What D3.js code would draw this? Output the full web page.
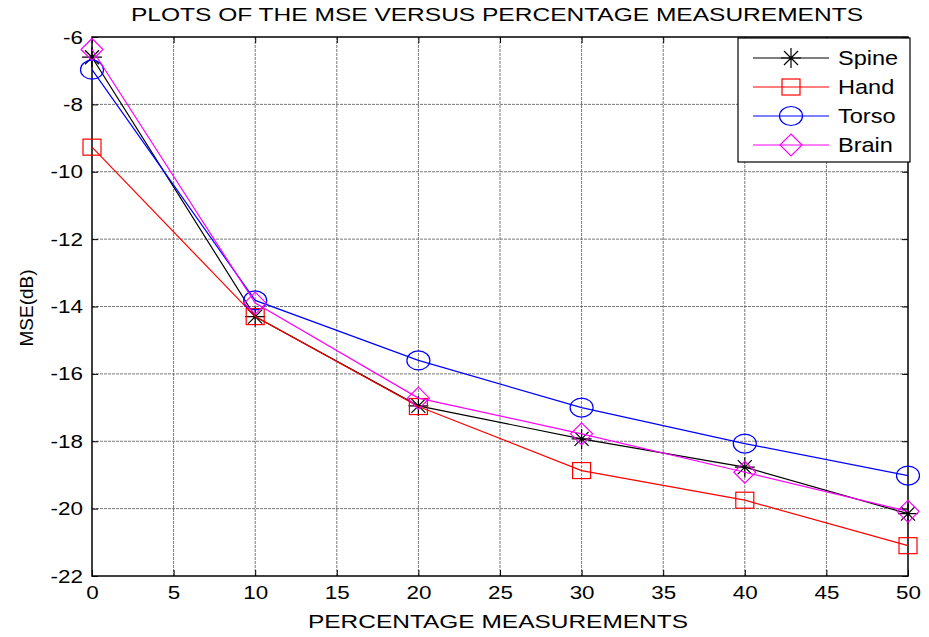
<!DOCTYPE html>
<html>
<head>
<meta charset="utf-8">
<script src="https://cdn.jsdelivr.net/npm/d3@7"></script>
<style>
body { margin: 0; background: #fff; }
text { font-family: "Liberation Sans", Arial, sans-serif; }
</style>
</head>
<body>
<div id="chart"></div>
<script>
const percent = [0, 10, 20, 30, 40, 50];
const spine = [-6.6, -14.3, -16.95, -17.93, -18.77, -20.15];
const hand = [-9.27, -14.3, -16.97, -18.87, -19.75, -21.1];
const torso = [-6.97, -13.82, -15.6, -17.0, -18.07, -19.02];
const brain = [-6.37, -13.9, -16.72, -17.78, -18.92, -20.08];
const xTicks = [0, 5, 10, 15, 20, 25, 30, 35, 40, 45, 50];
const yTicks = [-6, -8, -10, -12, -14, -16, -18, -20, -22];

const series = [
    {name: "Spine", values: spine, color: "#000000", marker: "star"},
    {name: "Hand", values: hand, color: "#ff0000", marker: "square"},
    {name: "Torso", values: torso, color: "#0000ff", marker: "circle"},
    {name: "Brain", values: brain, color: "#ff00ff", marker: "diamond"}
];

let width = 929, height = 637;
let plotL = 92, plotR = 908, plotT = 37, plotB = 576;

let svg = d3.select("#chart").append("svg")
    .attr("width", width)
    .attr("height", height);

let scaleX = d3.scaleLinear().domain([0, 50]).range([plotL, plotR]);
let scaleY = d3.scaleLinear().domain([-22, -6]).range([plotB, plotT]);

// растянуть текст по горизонтали, как на картинке
function stretch(sel, k) {
    sel.each(function() {
        let w = this.getComputedTextLength();
        d3.select(this).attr("textLength", w * k).attr("lengthAdjust", "spacingAndGlyphs");
    });
}

// сетка
svg.append("g").selectAll("line")
    .data(xTicks.slice(1, -1))
    .enter().append("line")
    .attr("x1", d => scaleX(d)).attr("x2", d => scaleX(d))
    .attr("y1", plotT).attr("y2", plotB)
    .attr("stroke", "#777").attr("stroke-width", 1).attr("stroke-dasharray", "3,1");
svg.append("g").selectAll("line")
    .data(yTicks.slice(1, -1))
    .enter().append("line")
    .attr("x1", plotL).attr("x2", plotR)
    .attr("y1", d => scaleY(d)).attr("y2", d => scaleY(d))
    .attr("stroke", "#777").attr("stroke-width", 1).attr("stroke-dasharray", "3,1");

// оси
let fmt = d => String(d);
let axisX = d3.axisBottom(scaleX).tickValues(xTicks).tickFormat(fmt).tickSize(-6).tickPadding(10);
let axisY = d3.axisLeft(scaleY).tickValues(yTicks).tickFormat(fmt).tickSize(-6).tickPadding(9);

let gx = svg.append("g").attr("transform", `translate(0, ${plotB})`).call(axisX);
let gy = svg.append("g").attr("transform", `translate(${plotL}, 0)`).call(axisY);
[gx, gy].forEach(g => {
    g.select(".domain").remove();
    g.selectAll("text").style("font-size", "19px").attr("fill", "#000");
    g.selectAll("line").attr("stroke", "#000");
    stretch(g.selectAll("text"), 1.18);
});
// верхние и правые метки
svg.append("g").attr("transform", `translate(0, ${plotT})`)
    .call(d3.axisTop(scaleX).tickValues(xTicks).tickSize(-6).tickFormat(""))
    .call(g => g.select(".domain").remove());
svg.append("g").attr("transform", `translate(${plotR}, 0)`)
    .call(d3.axisRight(scaleY).tickValues(yTicks).tickSize(-6).tickFormat(""))
    .call(g => g.select(".domain").remove());

svg.append("rect")
    .attr("x", plotL).attr("y", plotT)
    .attr("width", plotR - plotL).attr("height", plotB - plotT)
    .attr("fill", "none").attr("stroke", "#000").attr("stroke-width", 1.5);

function drawMarker(g, type, color, x, y) {
    if (type === "star") {
        g.append("path")
            .attr("d", `M${x-10},${y}H${x+10}M${x},${y-10}V${y+10}M${x-7},${y-7}L${x+7},${y+7}M${x-7},${y+7}L${x+7},${y-7}`)
            .attr("stroke", color).attr("stroke-width", 1.2).attr("fill", "none");
    } else if (type === "square") {
        g.append("rect").attr("x", x - 9).attr("y", y - 8).attr("width", 18).attr("height", 16)
            .attr("stroke", color).attr("stroke-width", 1.2).attr("fill", "none");
    } else if (type === "circle") {
        g.append("ellipse").attr("cx", x).attr("cy", y).attr("rx", 11.5).attr("ry", 9.5)
            .attr("stroke", color).attr("stroke-width", 1.2).attr("fill", "none");
    } else if (type === "diamond") {
        g.append("path").attr("d", `M${x},${y-11}L${x+11},${y}L${x},${y+11}L${x-11},${y}Z`)
            .attr("stroke", color).attr("stroke-width", 1.2).attr("fill", "none");
    }
}

let line = d3.line().x(d => scaleX(d[0])).y(d => scaleY(d[1]));

series.forEach(s => {
    let pts = percent.map((p, i) => [p, s.values[i]]);
    let g = svg.append("g");
    g.append("path").datum(pts).attr("d", line)
        .attr("fill", "none").attr("stroke", s.color).attr("stroke-width", 1.2);
    pts.forEach(p => drawMarker(g, s.marker, s.color, scaleX(p[0]), scaleY(p[1])));
});

// легенда
let lg = svg.append("g");
lg.append("rect").attr("x", 738).attr("y", 38).attr("width", 172).attr("height", 124)
    .attr("fill", "#fff").attr("stroke", "#000").attr("stroke-width", 1.2);
series.forEach((s, i) => {
    let y = 58 + i * 29;
    lg.append("line").attr("x1", 753).attr("x2", 829).attr("y1", y).attr("y2", y)
        .attr("stroke", s.color).attr("stroke-width", 1.2);
    drawMarker(lg, s.marker, s.color, 791, y);
    let t = lg.append("text").attr("x", 838).attr("y", y + 7).text(s.name)
        .style("font-size", "21px").attr("fill", "#000");
    stretch(t, 1.12);
});

svg.append("text").attr("x", 131).attr("y", 21)
    .attr("textLength", 732).attr("lengthAdjust", "spacingAndGlyphs")
    .style("font-size", "18px").text("PLOTS OF THE MSE VERSUS PERCENTAGE MEASUREMENTS");
svg.append("text").attr("x", 308).attr("y", 628)
    .attr("textLength", 380).attr("lengthAdjust", "spacingAndGlyphs")
    .style("font-size", "18px").text("PERCENTAGE MEASUREMENTS");
svg.append("text").attr("transform", `translate(33, 308) rotate(-90)`)
    .attr("text-anchor", "middle").style("font-size", "19px").text("MSE(dB)");
</script>
</body>
</html>
